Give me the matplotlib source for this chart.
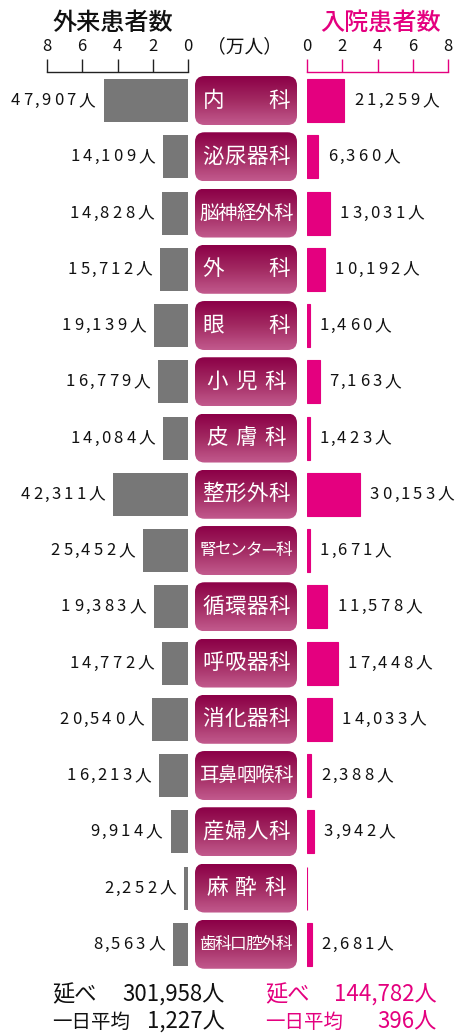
import matplotlib
matplotlib.use("Agg")
import matplotlib.pyplot as plt
import matplotlib.transforms as mtransforms
from matplotlib.patches import FancyBboxPatch
from matplotlib.colors import LinearSegmentedColormap
import numpy as np

plt.rcParams['font.family'] = ['Noto Sans CJK JP', 'DejaVu Sans']

# ---------------- data ----------------
departments = ["内科", "泌尿器科", "脳神経外科", "外科", "眼科", "小児科", "皮膚科",
               "整形外科", "腎センター科", "循環器科", "呼吸器科", "消化器科",
               "耳鼻咽喉科", "産婦人科", "麻酔科", "歯科口腔外科"]
outpatients = [47907, 14109, 14828, 15712, 19139, 16779, 14084, 42311,
               25452, 19383, 14772, 20540, 16213, 9914, 2252, 8563]
inpatients = [21259, 6360, 13031, 10192, 1460, 7163, 1423, 30153,
              1671, 11578, 17448, 14033, 2388, 3942, 0, 2681]
axis_ticks = [0, 2, 4, 6, 8]
unit = 10000  # 万人
out_total, out_daily = "301,958人", "1,227人"
in_total, in_daily = "144,782人", "396人"

# ---------------- style ----------------
W, H = 455, 1034
DPI = 100
GRAY = "#777777"
MAG = "#E4007F"
INK = "#111111"
PT = 72.0 / DPI  # points per pixel

fig = plt.figure(figsize=(W / DPI, H / DPI), dpi=DPI)

ROW = 56.25
TOP = 72.4
n = len(departments)
BOT = TOP + n * ROW


def rect(x0, x1):
    return [x0 / W, 1 - BOT / H, (x1 - x0) / W, (BOT - TOP) / H]


axL = fig.add_axes(rect(47, 188))
axR = fig.add_axes(rect(307, 448))
axM = fig.add_axes(rect(195, 297))

ypos = np.arange(n)
for ax in (axL, axR, axM):
    ax.set_ylim(n - 0.5, -0.5)
    ax.set_facecolor("none")
    ax.set_yticks([])
    for s in ("left", "right", "bottom"):
        ax.spines[s].set_visible(False)

BAR_H = 43 / ROW

out_v = np.array(outpatients) / unit
in_v = np.array(inpatients) / unit

axL.barh(ypos, out_v, height=BAR_H, color=GRAY)
axL.set_xlim(8, 0)
axR.barh(ypos, in_v, height=BAR_H, color=MAG, edgecolor=MAG, linewidth=0.8)
axR.set_xlim(0, 8)

for ax, col in ((axL, "#222222"), (axR, MAG)):
    ax.xaxis.tick_top()
    ax.set_xticks(axis_ticks)
    ax.set_xticklabels([str(t) for t in axis_ticks])
    ax.tick_params(axis="x", direction="out", length=13 * PT, width=1.0,
                   color=col, labelcolor=INK, labelsize=12, pad=3)
    ax.spines["top"].set_color(col)
    ax.spines["top"].set_linewidth(1.0)


def spaced_label(ax, x, y, s, ha, color, size=12, dpx=12.7, cpx=5.0, kpx=19, offset_px=0):
    advs = [dpx if ch.isdigit() else (cpx if ch == "," else kpx) for ch in s]
    total = sum(advs)
    pos = offset_px - total if ha == "right" else offset_px
    for ch, a in zip(s, advs):
        tr = mtransforms.offset_copy(ax.transData, fig=ax.figure,
                                     x=(pos + a / 2) * PT, y=0, units="points")
        ax.text(x, y, ch, transform=tr, ha="center", va="center",
                fontsize=size, color=color)
        pos += a


for i in range(n):
    if outpatients[i] > 0:
        spaced_label(axL, out_v[i], i, f"{outpatients[i]:,}人", "right", INK, offset_px=-7)
    if inpatients[i] > 0:
        spaced_label(axR, in_v[i], i, f"{inpatients[i]:,}人", "left", INK, offset_px=8)

# ---------------- middle boxes ----------------
BW = 102 / ROW
axM.set_xlim(0, BW)
axM.set_xticks([])
axM.spines["top"].set_visible(False)
cmap = LinearSegmentedColormap.from_list("box", ["#8C0047", "#A22A62", "#C25A8D"])
grad = np.linspace(0, 1, 64).reshape(-1, 1)
BH = 49 / ROW
for i, name in enumerate(departments):
    patch = FancyBboxPatch((0.0, i - BH / 2), BW, BH,
                           boxstyle="round,pad=0,rounding_size=0.17",
                           facecolor="none", edgecolor="none")
    axM.add_patch(patch)
    im = axM.imshow(grad, cmap=cmap, aspect="auto",
                    extent=[0, BW, i + BH / 2, i - BH / 2], interpolation="bilinear")
    im.set_clip_path(patch)
    chars = list(name)
    k = len(chars)
    if k <= 4:
        fs = 15.5
        span = 80 if k == 3 else 87
    elif k == 5:
        fs = 14.0
        span = 93
    else:
        fs = 12.0
        span = 93
    em = fs / PT
    left = (102 - span) / 2
    for j, ch in enumerate(chars):
        cx = left + em / 2 + (j * (span - em) / (k - 1) if k > 1 else 0)
        axM.text(cx / ROW, i, ch, ha="center", va="center", fontsize=fs, color="white")
axM.set_xlim(0, BW)
axM.set_ylim(n - 0.5, -0.5)

# ---------------- headings ----------------
def fx(x):
    return x / W


def fy(y):
    return 1 - y / H


fig.text(fx(52), fy(23), "外来患者数", ha="left", va="center", fontsize=17.4,
         color=INK, fontweight="medium")
fig.text(fx(320), fy(23), "入院患者数", ha="left", va="center", fontsize=17.4,
         color=MAG, fontweight="medium")
fig.text(fx(245), fy(47), "（万人）", ha="center", va="center", fontsize=13.5, color=INK)

# ---------------- totals ----------------
fig.text(fx(52), fy(995), "延べ", ha="left", va="center", fontsize=16, color=INK)
fig.text(fx(225), fy(995), out_total, ha="right", va="center", fontsize=16, color=INK)
fig.text(fx(52), fy(1022), "一日平均", ha="left", va="center", fontsize=14, color=INK)
fig.text(fx(225), fy(1022), out_daily, ha="right", va="center", fontsize=16, color=INK)
fig.text(fx(265), fy(995), "延べ", ha="left", va="center", fontsize=16, color=MAG)
fig.text(fx(437), fy(995), in_total, ha="right", va="center", fontsize=16, color=MAG)
fig.text(fx(265), fy(1022), "一日平均", ha="left", va="center", fontsize=14, color=MAG)
fig.text(fx(437), fy(1022), in_daily, ha="right", va="center", fontsize=16, color=MAG)

fig.savefig("out.png", dpi=DPI)
